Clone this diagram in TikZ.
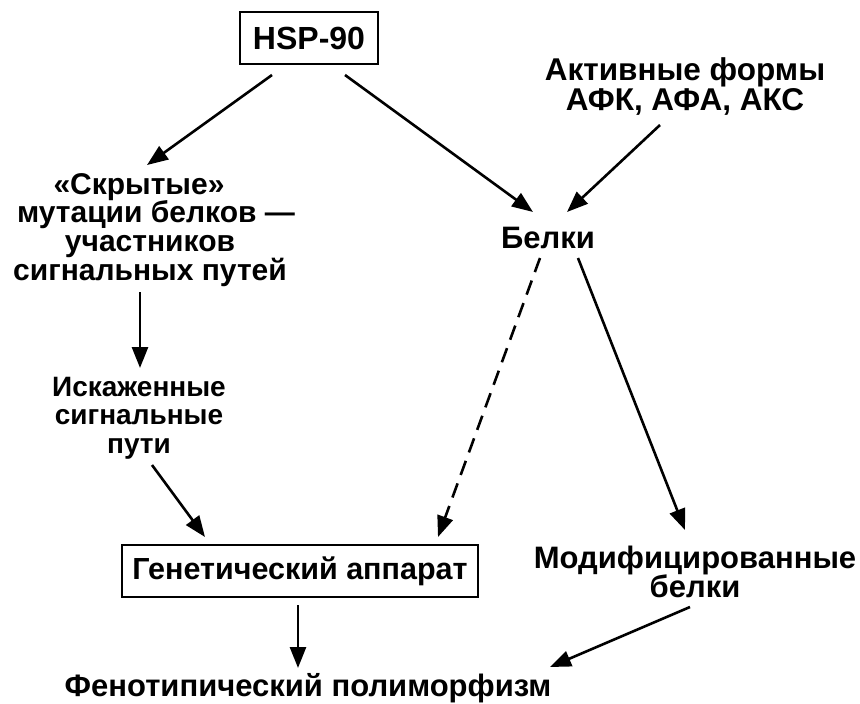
\documentclass[tikz,border=0pt]{standalone}
\usepackage{fontspec}
\setmainfont{Liberation Sans}
\usetikzlibrary{arrows.meta}

\begin{document}
\begin{tikzpicture}[x=1pt, y=-1pt, line width=2.6pt,
  txt/.style={font=\fontsize{31}{29.5}\selectfont\bfseries, align=center, inner sep=0pt},
  box/.style={txt, draw, minimum height=52pt},
  arr/.style={-{Triangle[length=21pt,width=16pt]}}]
\useasboundingbox (0,0) rectangle (860,704);
\node[box, minimum width=138pt, font=\fontsize{32}{32}\selectfont\bfseries] (hsp) at (309,38) {HSP-90};
\node[txt, font=\fontsize{31.5}{30}\selectfont\bfseries] (act) at (685,87) {Активные формы\\АФК, АФА, АКС};
\node[txt, font=\fontsize{30}{28.5}\selectfont\bfseries] (hid) at (150,230) {«Скрытые»\hspace*{22pt}\\\hspace*{12pt}мутации белков —\\участников\hspace*{26pt}\\сигнальных путей};
\node[txt] (prot) at (548,238) {Белки};
\node[txt, font=\fontsize{28}{28.5}\selectfont\bfseries] (dist) at (139,418) {Искаженные\\сигнальные\\пути};
\node[box, minimum width=356pt, font=\fontsize{30.5}{30}\selectfont\bfseries] (gen) at (300,571) {Генетический аппарат};
\node[txt] (mod) at (695,572) {Модифицированные\\белки};
\node[txt] (phen) at (308,688) {Фенотипический полиморфизм};
\draw[arr] ([shift={(-37,37)}]hsp.center) -- ([shift={(-3,-65)}]hid.center);
\draw[arr] ([shift={(36,37)}]hsp.center) -- ([shift={(-15,-26)}]prot.center);
\draw[arr] ([shift={(-25,38)}]act.center) -- ([shift={(19,-26)}]prot.center);
\draw[arr] ([shift={(-10,62)}]hid.center) -- ([shift={(1,-50)}]dist.center);
\draw[arr] ([shift={(13,47)}]dist.center) -- ([shift={(-95,-34)}]gen.center);
\draw[arr, dash pattern=on 15pt off 9pt] ([shift={(-8,20)}]prot.center) -- ([shift={(138,-34)}]gen.center);
\draw[arr] ([shift={(30,20)}]prot.center) -- ([shift={(-10,-42)}]mod.center);
\draw[arr] ([shift={(-2,34)}]gen.center) -- ([shift={(-10,-20)}]phen.center);
\draw[arr] ([shift={(-5,35)}]mod.center) -- ([shift={(242,-21)}]phen.center);
\end{tikzpicture}
\end{document}
